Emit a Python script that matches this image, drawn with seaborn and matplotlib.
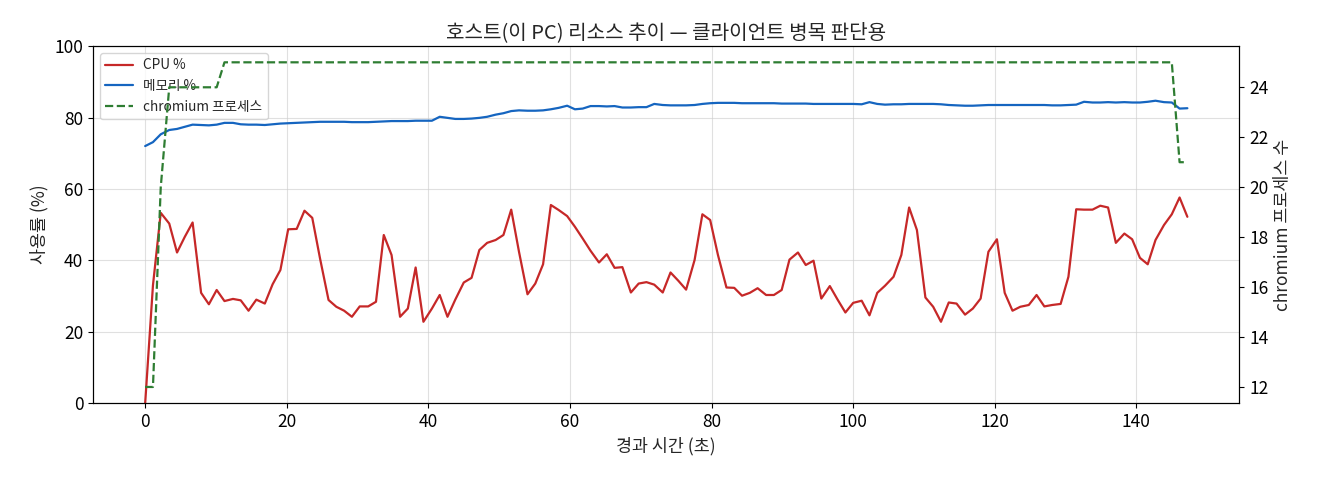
import pandas as pd
import matplotlib
matplotlib.use("Agg")
import matplotlib.pyplot as plt
import seaborn as sns

# elapsed seconds since start of sampling
elapsed = [
    0.0, 1.1, 2.2, 3.4, 4.5, 5.6, 6.7, 7.9, 9.0, 10.1, 11.2, 12.4, 13.5, 14.6, 15.7, 16.9, 18.0, 19.1, 20.2, 21.4,
    22.5, 23.6, 24.7, 25.9, 27.0, 28.1, 29.2, 30.3, 31.5, 32.6, 33.7, 34.8, 36.0, 37.1, 38.2, 39.3, 40.5, 41.6, 42.7, 43.8,
    45.0, 46.1, 47.2, 48.3, 49.5, 50.6, 51.7, 52.8, 54.0, 55.1, 56.2, 57.3, 58.4, 59.6, 60.7, 61.8, 62.9, 64.1, 65.2, 66.3,
    67.4, 68.6, 69.7, 70.8, 71.9, 73.1, 74.2, 75.3, 76.4, 77.6, 78.7, 79.8, 80.9, 82.1, 83.2, 84.3, 85.4, 86.5, 87.7, 88.8,
    89.9, 91.0, 92.2, 93.3, 94.4, 95.5, 96.7, 97.8, 98.9, 100.0, 101.2, 102.3, 103.4, 104.5, 105.7, 106.8, 107.9, 109.0, 110.2, 111.3,
    112.4, 113.5, 114.6, 115.8, 116.9, 118.0, 119.1, 120.3, 121.4, 122.5, 123.6, 124.8, 125.9, 127.0, 128.1, 129.3, 130.4, 131.5, 132.6, 133.8,
    134.9, 136.0, 137.1, 138.3, 139.4, 140.5, 141.6, 142.7, 143.9, 145.0, 146.1, 147.2,
]

cpu_pct = [
    0.0, 33.0, 53.3, 50.3, 42.2, 46.6, 50.6, 30.9, 27.7, 31.7, 28.6, 29.2, 28.8, 25.9, 29.0, 27.9, 33.3, 37.3, 48.7, 48.8,
    53.9, 51.9, 40.5, 28.9, 27.0, 25.9, 24.2, 27.1, 27.1, 28.4, 47.1, 41.5, 24.2, 26.5, 38.0, 22.8, 26.5, 30.3, 24.2, 29.0,
    33.8, 35.1, 42.9, 44.9, 45.7, 47.1, 54.2, 42.4, 30.5, 33.5, 38.9, 55.5, 54.1, 52.4, 49.4, 46.1, 42.7, 39.4, 41.7, 37.9,
    38.1, 31.0, 33.5, 33.9, 33.2, 31.0, 36.6, 34.3, 31.8, 40.1, 52.9, 51.3, 41.5, 32.4, 32.3, 30.1, 30.9, 32.2, 30.3, 30.3,
    31.7, 40.2, 42.2, 38.7, 39.9, 29.3, 32.8, 29.0, 25.4, 28.1, 28.7, 24.6, 30.9, 32.9, 35.4, 41.5, 54.8, 48.5, 29.6, 27.0,
    22.8, 28.2, 27.9, 24.8, 26.5, 29.3, 42.4, 45.9, 30.9, 25.9, 27.0, 27.5, 30.3, 27.1, 27.5, 27.8, 35.4, 54.3, 54.2, 54.2,
    55.3, 54.8, 44.9, 47.5, 45.9, 40.7, 38.9, 45.7, 49.9, 52.9, 57.6, 52.2,
]

mem_pct = [
    72.0, 73.1, 75.3, 76.5, 76.8, 77.4, 78.0, 77.9, 77.8, 78.0, 78.5, 78.5, 78.1, 78.0, 78.0, 77.9, 78.1, 78.3, 78.4, 78.5,
    78.6, 78.7, 78.8, 78.8, 78.8, 78.8, 78.7, 78.7, 78.7, 78.8, 78.9, 79.0, 79.0, 79.0, 79.1, 79.1, 79.1, 80.2, 79.9, 79.6,
    79.6, 79.7, 79.9, 80.2, 80.8, 81.2, 81.8, 82.0, 81.9, 81.9, 82.0, 82.3, 82.7, 83.3, 82.3, 82.5, 83.2, 83.2, 83.1, 83.2,
    82.8, 82.8, 82.9, 82.9, 83.8, 83.5, 83.4, 83.4, 83.4, 83.5, 83.8, 84.0, 84.1, 84.1, 84.1, 84.0, 84.0, 84.0, 84.0, 84.0,
    83.9, 83.9, 83.9, 83.9, 83.8, 83.8, 83.8, 83.8, 83.8, 83.8, 83.7, 84.3, 83.8, 83.6, 83.7, 83.7, 83.8, 83.8, 83.8, 83.8,
    83.7, 83.5, 83.4, 83.3, 83.3, 83.4, 83.5, 83.5, 83.5, 83.5, 83.5, 83.5, 83.5, 83.5, 83.4, 83.4, 83.5, 83.6, 84.4, 84.2,
    84.2, 84.3, 84.2, 84.3, 84.2, 84.2, 84.4, 84.7, 84.3, 84.2, 82.5, 82.6,
]

chromium_procs = [
    12, 12, 20, 24, 24, 24, 24, 24, 24, 24, 25, 25, 25, 25, 25, 25, 25, 25, 25, 25,
    25, 25, 25, 25, 25, 25, 25, 25, 25, 25, 25, 25, 25, 25, 25, 25, 25, 25, 25, 25,
    25, 25, 25, 25, 25, 25, 25, 25, 25, 25, 25, 25, 25, 25, 25, 25, 25, 25, 25, 25,
    25, 25, 25, 25, 25, 25, 25, 25, 25, 25, 25, 25, 25, 25, 25, 25, 25, 25, 25, 25,
    25, 25, 25, 25, 25, 25, 25, 25, 25, 25, 25, 25, 25, 25, 25, 25, 25, 25, 25, 25,
    25, 25, 25, 25, 25, 25, 25, 25, 25, 25, 25, 25, 25, 25, 25, 25, 25, 25, 25, 25,
    25, 25, 25, 25, 25, 25, 25, 25, 25, 25, 21, 21,
]

df = pd.DataFrame({
    "elapsed": elapsed,
    "cpu": cpu_pct,
    "mem": mem_pct,
    "chromium": chromium_procs,
})

sns.set_style("ticks")
plt.rcParams["font.family"] = ["Noto Sans CJK KR", "DejaVu Sans"]
plt.rcParams["axes.edgecolor"] = "black"
plt.rcParams["axes.unicode_minus"] = False

fig, ax = plt.subplots(figsize=(13.2, 4.8), dpi=100)
fig.subplots_adjust(left=0.0705, right=0.939, top=0.904, bottom=0.16)

sns.lineplot(data=df, x="elapsed", y="cpu", ax=ax, color="#c62828", linewidth=1.6, label="CPU %")
sns.lineplot(data=df, x="elapsed", y="mem", ax=ax, color="#1565c0", linewidth=1.6, label="메모리 %")
ax.set_ylim(0, 100)
ax.set_xlabel("경과 시간 (초)", fontsize=12.5)
ax.set_ylabel("사용률 (%)", fontsize=12.5)
ax.grid(True, color="#cccccc", alpha=0.6, linewidth=0.8)
ax.tick_params(labelsize=12.5, colors="black")

ax2 = ax.twinx()
sns.lineplot(data=df, x="elapsed", y="chromium", ax=ax2, color="#2e7d32", linewidth=1.6,
             linestyle="--", label="chromium 프로세스")
ax2.set_ylabel("chromium 프로세스 수", fontsize=12.5)
ax2.tick_params(labelsize=12.5, colors="black")

h1, l1 = ax.get_legend_handles_labels()
h2, l2 = ax2.get_legend_handles_labels()
if ax2.get_legend():
    ax2.get_legend().remove()
ax.legend(h1 + h2, l1 + l2, loc="upper left", fontsize=9.8, framealpha=0.8)

ax.set_title("호스트(이 PC) 리소스 추이 — 클라이언트 병목 판단용", fontsize=14.5)

plt.savefig("out.png", dpi=100)
plt.close()
